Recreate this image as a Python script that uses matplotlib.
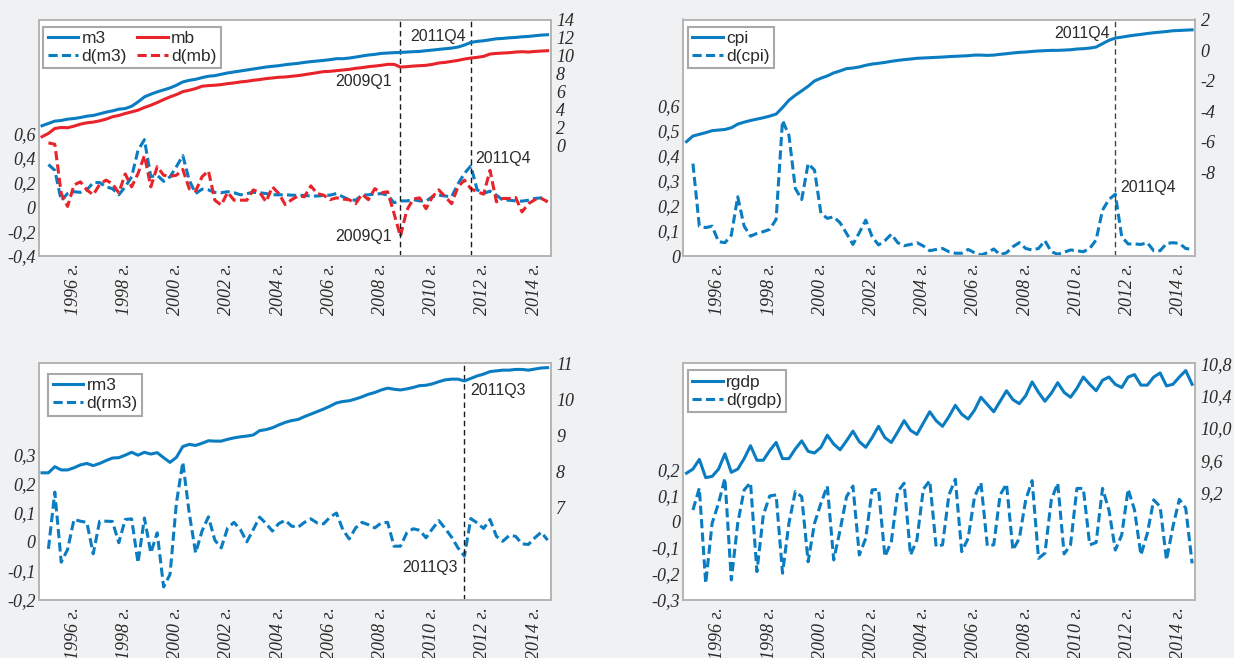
import matplotlib
matplotlib.use("Agg")
import matplotlib.pyplot as plt

# ---------------- data (quarterly, 1995Q1 .. 2014Q4) ----------------
years = list(range(1995, 2015))
quarters = [f"{y}Q{q}" for y in years for q in (1, 2, 3, 4)]

tick_years = [1996, 1998, 2000, 2002, 2004, 2006, 2008, 2010, 2012, 2014]
tick_labels = [f"{y} г." for y in tick_years]

m3 = [2.15, 2.41, 2.67, 2.74, 2.89, 2.96, 3.07, 3.22, 3.30, 3.48, 3.67, 3.81, 4.00, 4.07, 4.33, 4.81,
      5.37, 5.67, 5.93, 6.15, 6.37, 6.67, 7.04, 7.22, 7.33, 7.52, 7.67, 7.74, 7.89, 8.04, 8.15, 8.26,
      8.37, 8.48, 8.59, 8.70, 8.78, 8.85, 8.96, 9.04, 9.11, 9.22, 9.30, 9.37, 9.44, 9.52, 9.63, 9.63,
      9.70, 9.81, 9.93, 10.04, 10.11, 10.22, 10.26, 10.30, 10.33, 10.37, 10.41, 10.44, 10.52, 10.59, 10.67, 10.74,
      10.81, 10.93, 11.15, 11.44, 11.56, 11.63, 11.74, 11.85, 11.89, 11.96, 12.00, 12.07, 12.11, 12.19, 12.26, 12.30]
mb = [0.93, 1.30, 1.85, 1.96, 1.93, 2.11, 2.33, 2.48, 2.56, 2.70, 2.89, 3.15, 3.30, 3.52, 3.70, 3.89,
      4.19, 4.44, 4.74, 5.07, 5.37, 5.63, 5.96, 6.11, 6.30, 6.56, 6.63, 6.67, 6.74, 6.85, 6.93, 7.04,
      7.11, 7.22, 7.30, 7.41, 7.48, 7.56, 7.59, 7.67, 7.74, 7.85, 7.96, 8.07, 8.19, 8.22, 8.30, 8.37,
      8.44, 8.56, 8.63, 8.74, 8.81, 8.89, 9.00, 9.00, 8.70, 8.74, 8.81, 8.85, 8.89, 9.00, 9.15, 9.22,
      9.33, 9.44, 9.59, 9.70, 9.78, 9.89, 10.15, 10.22, 10.26, 10.30, 10.37, 10.41, 10.37, 10.44, 10.48, 10.52]
d_m3 = [0.347, 0.300, 0.054, 0.110, 0.125, 0.120, 0.140, 0.200, 0.200, 0.165, 0.150, 0.100, 0.165, 0.247, 0.464,
        0.550, 0.247, 0.260, 0.210, 0.247, 0.330, 0.420, 0.220, 0.110, 0.146, 0.140, 0.120, 0.117, 0.125, 0.117,
        0.100, 0.110, 0.120, 0.117, 0.110, 0.100, 0.100, 0.100, 0.097, 0.095, 0.095, 0.090, 0.090, 0.095, 0.097,
        0.110, 0.084, 0.060, 0.056, 0.097, 0.100, 0.105, 0.110, 0.097, 0.035, 0.050, 0.050, 0.060, 0.050, 0.048,
        0.084, 0.097, 0.090, 0.084, 0.190, 0.274, 0.336, 0.140, 0.110, 0.130, 0.097, 0.056, 0.056, 0.050, 0.048,
        0.056, 0.070, 0.075, 0.043]
d_mb = [0.524, 0.513, 0.110, 0.005, 0.180, 0.206, 0.140, 0.100, 0.184, 0.220, 0.190, 0.116, 0.270, 0.165, 0.274,
        0.420, 0.165, 0.330, 0.260, 0.250, 0.260, 0.307, 0.150, 0.130, 0.247, 0.296, 0.056, 0.016, 0.120, 0.056,
        0.056, 0.056, 0.140, 0.120, 0.043, 0.165, 0.110, 0.020, 0.060, 0.090, 0.084, 0.173, 0.110, 0.097, 0.060,
        0.075, 0.065, 0.060, 0.027, 0.105, 0.060, 0.150, 0.116, 0.125, -0.052, -0.240, -0.025, 0.065, 0.075, -0.014,
        0.084, 0.140, 0.084, 0.027, 0.165, 0.220, 0.150, 0.125, 0.105, 0.300, 0.043, 0.070, 0.070, 0.078, -0.040,
        0.027, 0.060, 0.070, 0.043]

cpi = [-6.00, -5.63, -5.52, -5.41, -5.28, -5.24, -5.20, -5.09, -4.85, -4.72, -4.61, -4.52, -4.43, -4.32, -4.19, -3.76,
       -3.28, -2.95, -2.66, -2.36, -2.01, -1.83, -1.68, -1.48, -1.35, -1.20, -1.16, -1.09, -0.98, -0.90, -0.85, -0.79,
       -0.72, -0.66, -0.61, -0.57, -0.52, -0.50, -0.48, -0.46, -0.44, -0.41, -0.39, -0.37, -0.35, -0.31, -0.31, -0.33,
       -0.31, -0.26, -0.22, -0.17, -0.13, -0.11, -0.07, -0.04, -0.02, 0.00, 0.00, 0.02, 0.04, 0.09, 0.11, 0.15,
       0.22, 0.44, 0.66, 0.81, 0.87, 0.94, 1.00, 1.05, 1.11, 1.16, 1.20, 1.24, 1.29, 1.31, 1.33, 1.35]
d_cpi = [0.368, 0.119, 0.113, 0.119, 0.057, 0.053, 0.083, 0.236, 0.119, 0.079, 0.090, 0.097, 0.106, 0.146, 0.540,
         0.481, 0.269, 0.225, 0.368, 0.342, 0.170, 0.150, 0.156, 0.132, 0.090, 0.046, 0.093, 0.143, 0.077, 0.044,
         0.061, 0.087, 0.053, 0.041, 0.046, 0.053, 0.040, 0.021, 0.026, 0.030, 0.017, 0.011, 0.011, 0.026, 0.013,
         0.004, 0.013, 0.028, 0.005, 0.013, 0.037, 0.053, 0.030, 0.024, 0.030, 0.061, 0.017, 0.007, 0.015, 0.024,
         0.021, 0.017, 0.030, 0.064, 0.183, 0.225, 0.246, 0.077, 0.048, 0.048, 0.046, 0.053, 0.021, 0.021, 0.050,
         0.053, 0.050, 0.030, 0.026]

rm3 = [7.96, 7.96, 8.13, 8.04, 8.04, 8.10, 8.18, 8.22, 8.16, 8.22, 8.30, 8.37, 8.38, 8.45, 8.53, 8.45,
       8.53, 8.48, 8.52, 8.38, 8.25, 8.39, 8.69, 8.75, 8.72, 8.78, 8.85, 8.84, 8.84, 8.89, 8.93, 8.96,
       8.98, 9.01, 9.13, 9.16, 9.21, 9.29, 9.36, 9.41, 9.44, 9.52, 9.59, 9.66, 9.73, 9.81, 9.90, 9.94,
       9.96, 10.01, 10.07, 10.14, 10.19, 10.26, 10.31, 10.28, 10.26, 10.29, 10.33, 10.38, 10.39, 10.43, 10.49, 10.54,
       10.56, 10.56, 10.51, 10.58, 10.65, 10.70, 10.77, 10.79, 10.81, 10.81, 10.83, 10.83, 10.81, 10.84, 10.87, 10.88]
d_rm3 = [-0.024, 0.171, -0.070, -0.026, 0.077, 0.071, 0.067, -0.041, 0.071, 0.071, 0.070, -0.003, 0.077, 0.079, -0.072,
         0.082, -0.038, 0.031, -0.155, -0.112, 0.134, 0.274, 0.099, -0.038, 0.037, 0.086, 0.006, -0.021, 0.048, 0.067,
         0.042, 0.000, 0.042, 0.085, 0.063, 0.037, 0.063, 0.074, 0.054, 0.050, 0.067, 0.079, 0.065, 0.062, 0.085,
         0.099, 0.042, 0.010, 0.048, 0.067, 0.059, 0.048, 0.065, 0.067, -0.015, -0.015, 0.031, 0.045, 0.040, 0.014,
         0.045, 0.073, 0.046, 0.016, -0.021, -0.049, 0.080, 0.065, 0.046, 0.077, 0.019, 0.002, 0.022, 0.019, -0.007,
         -0.009, 0.014, 0.033, 0.006]

rgdp = [9.44, 9.49, 9.61, 9.385, 9.40, 9.49, 9.68, 9.45, 9.49, 9.62, 9.78, 9.60, 9.60, 9.72, 9.82, 9.62,
        9.62, 9.74, 9.84, 9.71, 9.69, 9.76, 9.91, 9.80, 9.73, 9.84, 9.96, 9.83, 9.76, 9.88, 10.02, 9.88,
        9.82, 9.95, 10.09, 9.97, 9.92, 10.06, 10.20, 10.09, 10.02, 10.14, 10.28, 10.17, 10.11, 10.22, 10.38, 10.29,
        10.20, 10.33, 10.46, 10.35, 10.30, 10.40, 10.57, 10.44, 10.33, 10.43, 10.56, 10.44, 10.38, 10.49, 10.63, 10.54,
        10.46, 10.59, 10.63, 10.54, 10.50, 10.63, 10.66, 10.53, 10.53, 10.63, 10.68, 10.52, 10.54, 10.63, 10.71, 10.54]
d_rgdp = [0.046, 0.130, -0.236, -0.005, 0.072, 0.168, -0.223, -0.005, 0.123, 0.151, -0.191, 0.027, 0.100, 0.104, -0.197,
          -0.005, 0.117, 0.097, -0.153, -0.005, 0.072, 0.138, -0.146, -0.031, 0.097, 0.138, -0.127, -0.063, 0.123, 0.126,
          -0.133, -0.076, 0.117, 0.149, -0.127, -0.069, 0.126, 0.159, -0.095, -0.088, 0.104, 0.164, -0.114, -0.063, 0.097,
          0.151, -0.092, -0.088, 0.104, 0.146, -0.108, -0.063, 0.085, 0.159, -0.140, -0.120, 0.085, 0.149, -0.123, -0.088,
          0.129, 0.129, -0.088, -0.079, 0.129, 0.046, -0.108, -0.050, 0.126, 0.046, -0.127, -0.044, 0.085, 0.059, -0.146,
          -0.018, 0.087, 0.053, -0.159]

# tick values of the two y axes per panel
p1_left = [-0.4, -0.2, 0, 0.2, 0.4, 0.6]
p1_right = [0, 2, 4, 6, 8, 10, 12, 14]
p2_left = [0, 0.1, 0.2, 0.3, 0.4, 0.5, 0.6]
p2_right = [-8, -6, -4, -2, 0, 2]
p3_left = [-0.2, -0.1, 0, 0.1, 0.2, 0.3]
p3_right = [7, 8, 9, 10, 11]
p4_left = [-0.3, -0.2, -0.1, 0, 0.1, 0.2]
p4_right = [9.2, 9.6, 10.0, 10.4, 10.8]

# ---------------- styling ----------------
BLUE = "#0a7cc1"
RED = "#e8232a"
BG = "#f0f1f3"
SPINE = "#b4b4b4"
TXT = "#2a2a2a"
SERIF = ["Liberation Serif", "DejaVu Serif"]
SANS = ["Liberation Sans", "DejaVu Sans"]
LW = 2.2
DASH = (0, (3.0, 1.4))
VDASH = (0, (4, 2.6))

x = list(range(len(quarters)))
xd = x[1:]
qpos = {q: i for i, q in enumerate(quarters)}
tick_pos = [qpos[f"{y}Q1"] + 0.9 for y in tick_years]

W, H = 1234, 658
fig = plt.figure(figsize=(W / 100, H / 100), dpi=100, facecolor=BG)


def make_axes(l, t, r, b):
    return fig.add_axes([l / W, 1 - b / H, (r - l) / W, (b - t) / H])


def fmt(v, dec):
    if abs(v) < 1e-9:
        return "0"
    return f"{v:.{dec}f}".replace(".", ",")


def style(ax, ax2, lticks, ldec, rticks, rdec, ylim_l, ylim_r):
    ax.set_xlim(-0.55, 79.45)
    ax.set_ylim(*ylim_l)
    ax2.set_ylim(*ylim_r)
    ax.set_facecolor("white")
    for a in (ax, ax2):
        for s in a.spines.values():
            s.set_color(SPINE)
            s.set_linewidth(1.2)
    tk = dict(fontfamily=SERIF, fontstyle="italic", fontsize=13, color=TXT)
    ax.set_xticks(tick_pos, tick_labels, rotation=90, **tk)
    ax.set_yticks(lticks, [fmt(v, ldec) for v in lticks], **tk)
    ax2.set_yticks(rticks, [fmt(v, rdec) for v in rticks], **tk)
    ax.tick_params(axis="both", length=0)
    ax.tick_params(axis="y", pad=2)
    ax.tick_params(axis="x", pad=5)
    ax2.tick_params(axis="y", length=0, pad=4)


def legend(ax2, handles, labels, ncol, anchor):
    leg = ax2.legend(handles, labels, ncol=ncol, loc="upper left", bbox_to_anchor=anchor,
                     borderaxespad=0, frameon=True, fancybox=False, framealpha=1,
                     edgecolor="#a8a8a8", prop={"family": SANS, "size": 12.5},
                     handlelength=1.75, handletextpad=0.2, borderpad=0.25,
                     labelspacing=0.15, columnspacing=0.6)
    leg.get_frame().set_linewidth(1.5)
    for t in leg.get_texts():
        t.set_color(TXT)


def note(ax, xq, y, s, ha):
    ax.text(xq, y, s, ha=ha, va="center", fontsize=11.5, fontfamily=SANS, color=TXT)


# ---------------- panel 1 : m3 / mb ----------------
ax = make_axes(38.5, 19.5, 550.5, 256)
ax2 = ax.twinx()
h_dm3, = ax.plot(xd, d_m3, color=BLUE, lw=LW, ls=DASH)
h_dmb, = ax.plot(xd, d_mb, color=RED, lw=LW, ls=DASH)
h_m3, = ax2.plot(x, m3, color=BLUE, lw=LW)
h_mb, = ax2.plot(x, mb, color=RED, lw=LW)
style(ax, ax2, p1_left, 1, p1_right, 0, (-0.4, 1.532), (-12.37, 14.0))
for q in ("2009Q1", "2011Q4"):
    ax.axvline(qpos[q], color="#1a1a1a", lw=1.0, ls=VDASH)
legend(ax2, [h_m3, h_dm3, h_mb, h_dmb], ["m3", "d(m3)", "mb", "d(mb)"], 2, (0.0094, 0.97))
note(ax2, qpos["2011Q4"] - 0.85, 12.1, "2011Q4", "right")
note(ax2, qpos["2009Q1"] - 1.4, 7.04, "2009Q1", "right")
note(ax, qpos["2009Q1"] - 1.4, -0.237, "2009Q1", "right")
note(ax, qpos["2011Q4"] + 0.7, 0.396, "2011Q4", "left")

# ---------------- panel 2 : cpi ----------------
ax = make_axes(683, 19.5, 1195, 256)
ax2 = ax.twinx()
h_dcpi, = ax.plot(xd, d_cpi, color=BLUE, lw=LW, ls=DASH)
h_cpi, = ax2.plot(x, cpi, color=BLUE, lw=LW)
style(ax, ax2, p2_left, 1, p2_right, 0, (0.0, 0.942), (-13.52, 2.03))
ax.axvline(qpos["2011Q4"], color="#444444", lw=1.0, ls=VDASH)
legend(ax2, [h_cpi, h_dcpi], ["cpi", "d(cpi)"], 1, (0.0094, 0.97))
note(ax2, qpos["2011Q4"] - 0.9, 1.13, "2011Q4", "right")
note(ax, qpos["2011Q4"] + 0.8, 0.273, "2011Q4", "left")

# ---------------- panel 3 : rm3 ----------------
ax = make_axes(38.5, 363.3, 550.5, 600)
ax2 = ax.twinx()
h_drm3, = ax.plot(xd, d_rm3, color=BLUE, lw=LW, ls=DASH)
h_rm3, = ax2.plot(x, rm3, color=BLUE, lw=LW)
style(ax, ax2, p3_left, 1, p3_right, 0, (-0.198, 0.614), (4.43, 11.0))
ax.axvline(qpos["2011Q3"], color="#1a1a1a", lw=1.0, ls=VDASH)
legend(ax2, [h_rm3, h_drm3], ["rm3", "d(rm3)"], 1, (0.019, 0.955))
note(ax2, qpos["2011Q3"] + 0.9, 10.24, "2011Q3", "left")
note(ax, qpos["2011Q3"] - 1.1, -0.089, "2011Q3", "right")

# ---------------- panel 4 : rgdp ----------------
ax = make_axes(683, 363.3, 1195, 600)
ax2 = ax.twinx()
h_drgdp, = ax.plot(xd, d_rgdp, color=BLUE, lw=LW, ls=DASH)
h_rgdp, = ax2.plot(x, rgdp, color=BLUE, lw=LW)
style(ax, ax2, p4_left, 1, p4_right, 1, (-0.3, 0.61), (7.87, 10.8))
legend(ax2, [h_rgdp, h_drgdp], ["rgdp", "d(rgdp)"], 1, (0.0094, 0.97))

fig.savefig("out.png", dpi=100, facecolor=BG)
